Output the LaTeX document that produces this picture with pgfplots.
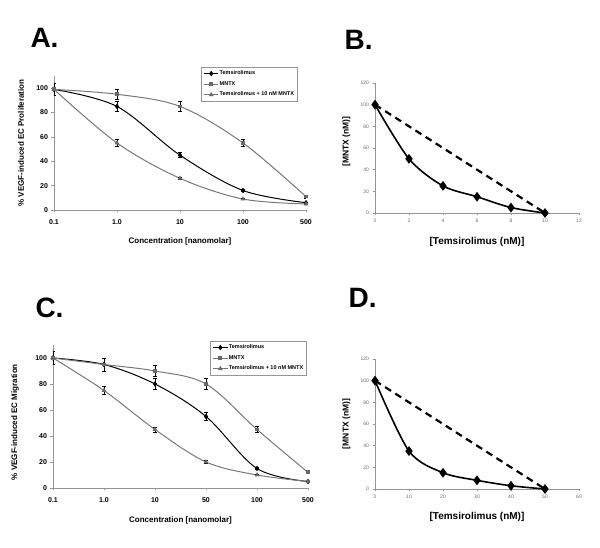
\documentclass[border=0pt]{standalone}
\usepackage{fontspec}
\setmainfont{Liberation Sans}
\usepackage{pgfplots}
\pgfplotsset{compat=1.18}
\definecolor{axgray}{RGB}{150,150,150}
\definecolor{lgray}{RGB}{120,120,120}
\definecolor{mgray}{RGB}{105,105,105}
\begin{document}
\begin{tikzpicture}[x=1pt,y=1pt]
\path[use as bounding box] (0,0) rectangle (600,548);
\pgfplotsset{
  doseaxis/.style={scale only axis, anchor=south west, axis lines=left,
    axis line style={-, draw=axgray, line width=0.8pt},
    ymin=0, ymax=110, ytick={0,20,...,100},
    tick align=outside, major tick length=2.5pt,
    tick style={axgray, line width=0.6pt},
    ticklabel style={font=\bfseries\fontsize{7}{8}\selectfont},
    /pgf/number format/assume math mode=true,
    xticklabel style={yshift=-4pt},
    label style={font=\bfseries\fontsize{8}{9}\selectfont},
    legend cell align=left,
    legend style={draw=axgray, line width=0.6pt, anchor=north west,
      font=\bfseries\fontsize{5.5}{6}\selectfont, row sep=3.2pt,
      inner sep=2.5pt, nodes={inner sep=1pt}},
    legend image code/.code={\draw[mark repeat=2,mark phase=2,##1] plot coordinates {(0pt,0pt)(7pt,0pt)(14pt,0pt)};},
  },
  ebar/.style={error bars/.cd, y dir=both, y explicit,
    error bar style={black, line width=0.6pt},
    error mark options={rotate=90, black, mark size=2pt, line width=0.6pt}},
  temsi/.style={black, line width=1pt, smooth, tension=0.55, mark=diamond*, mark size=2pt, mark options={solid, fill=black}},
  mntx/.style={lgray, line width=1pt, smooth, tension=0.55, mark=square*, mark size=1.4pt, mark options={fill=mgray, draw=mgray}},
  combo/.style={lgray, line width=1pt, smooth, tension=0.55, mark=triangle*, mark size=1.8pt, mark options={fill=mgray, draw=mgray}},
  isoaxis/.style={scale only axis, anchor=south west, axis lines=left,
    axis line style={-, draw=axgray, line width=0.8pt},
    ymin=0, ymax=120, ytick={0,20,...,120},
    tick align=outside, major tick length=2.5pt,
    tick style={axgray, line width=0.6pt},
    ticklabel style={font=\fontsize{5}{6}\selectfont, text=mgray},
    /pgf/number format/assume math mode=true,
    x label style={font=\bfseries\fontsize{10}{12}\selectfont},
    y label style={font=\bfseries\fontsize{8.5}{10}\selectfont},
    clip=false},
  solidiso/.style={black, line width=1.6pt, smooth, tension=0.5, mark=diamond*, mark size=3.6pt, mark options={fill=black}},
  dashiso/.style={black, line width=2.2pt, dash pattern=on 7pt off 5pt},
}

% ---------- Panel A ----------
\node[anchor=base west, font=\bfseries\fontsize{28}{30}\selectfont] at (27,500) {A.};
\begin{axis}[doseaxis, at={(54pt,338pt)}, width=252pt, height=134pt,
  xmin=0, xmax=4, xtick={0,1,2,3,4}, xticklabels={0.1,1.0,10,100,500},
  xlabel={Concentration [nanomolar]},
  ylabel={\% VEGF-induced EC Proliferation},
  xlabel style={at={(axis description cs:0.5,-0.235)}, anchor=center},
  ylabel style={at={(axis description cs:-0.131,0.5)}, anchor=center},
  legend style={at={(axis description cs:0.583,1.067)}}]
\addplot+[temsi, ebar] coordinates {(0,99) +- (0,0) (1,85) +- (0,4) (2,45) +- (0,2) (3,16) +- (0,1) (4,6) +- (0,0.6)};
\addlegendentry{Temsirolimus}
\addplot+[mntx, ebar] coordinates {(0,99) +- (0,0) (1,95) +- (0,4) (2,85) +- (0,4) (3,55) +- (0,3) (4,11) +- (0,1)};
\addlegendentry{MNTX}
\addplot+[combo, ebar] coordinates {(0,99) +- (0,5) (1,55) +- (0,3) (2,26) +- (0,1) (3,9) +- (0,0.6) (4,5) +- (0,0.6)};
\addlegendentry{Temsirolimus + 10 nM MNTX}
\end{axis}

% ---------- Panel B ----------
\node[anchor=base west, font=\bfseries\fontsize{28}{30}\selectfont] at (341,498) {B.};
\begin{axis}[isoaxis, at={(375pt,335pt)}, width=204pt, height=130pt,
  xmin=0, xmax=12, xtick={0,2,...,12},
  xlabel={[Temsirolimus (nM)]}, ylabel={[MNTX (nM)]},
  xlabel style={at={(axis description cs:0.5,-0.225)}, anchor=center},
  ylabel style={at={(axis description cs:-0.14,0.55)}, anchor=center}]
\addplot[dashiso] coordinates {(0,100) (10,0)};
\addplot[solidiso] coordinates {(0,100) (2,50) (4,25) (6,15) (8,5) (10,0)};
\end{axis}

% ---------- Panel C ----------
\node[anchor=base west, font=\bfseries\fontsize{28}{30}\selectfont] at (32,230) {C.};
\begin{axis}[doseaxis, at={(53pt,60pt)}, width=255pt, height=143pt,
  xmin=0, xmax=5, xtick={0,1,2,3,4,5}, xticklabels={0.1,1.0,10,50,100,500},
  xlabel={Concentration [nanomolar]},
  ylabel={\% VEGF-induced EC Migration},
  xlabel style={at={(axis description cs:0.5,-0.224)}, anchor=center},
  ylabel style={at={(axis description cs:-0.149,0.46)}, anchor=center},
  legend style={at={(axis description cs:0.616,1.028)}}]
\addplot+[temsi, ebar] coordinates {(0,100) +- (0,0) (1,95) +- (0,0) (2,80) +- (0,4) (3,55) +- (0,3) (4,15) +- (0,1) (5,5) +- (0,0.5)};
\addlegendentry{Temsirolimus}
\addplot+[mntx, ebar] coordinates {(0,100) +- (0,5) (1,95) +- (0,5) (2,90) +- (0,4) (3,80) +- (0,4) (4,45) +- (0,2.5) (5,12) +- (0,1)};
\addlegendentry{MNTX}
\addplot+[combo, ebar] coordinates {(0,100) +- (0,0) (1,75) +- (0,3) (2,45) +- (0,2) (3,20) +- (0,1) (4,10) +- (0,0.6) (5,5) +- (0,0.5)};
\addlegendentry{Temsirolimus + 10 nM MNTX}
\end{axis}

% ---------- Panel D ----------
\node[anchor=base west, font=\bfseries\fontsize{28}{30}\selectfont] at (345,240) {D.};
\begin{axis}[isoaxis, at={(375pt,59pt)}, width=204pt, height=130pt,
  xmin=0, xmax=60, xtick={0,10,...,60},
  xlabel={[Temsirolimus (nM)]}, ylabel={[MNTX (nM)]},
  xlabel style={at={(axis description cs:0.5,-0.215)}, anchor=center},
  ylabel style={at={(axis description cs:-0.14,0.5)}, anchor=center}]
\addplot[dashiso] coordinates {(0,100) (50,0)};
\addplot[solidiso] coordinates {(0,100) (10,35) (20,15) (30,8) (40,3) (50,0)};
\end{axis}
\end{tikzpicture}
\end{document}
